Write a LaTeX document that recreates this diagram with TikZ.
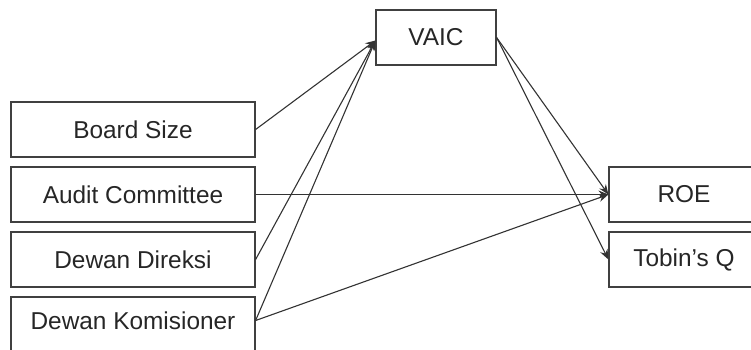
\documentclass[tikz,border=0pt]{standalone}
\usepackage{fontspec}
\setmainfont{Liberation Sans}
\usetikzlibrary{arrows.meta}
\definecolor{boxline}{HTML}{404040}
\definecolor{arrowline}{HTML}{333333}
\tikzset{
  varbox/.style={draw=boxline, line width=0.6pt, minimum width=122pt, minimum height=27.5pt,
    inner sep=0pt, font=\fontsize{12.2}{14}\selectfont, text=black!85},
  smallbox/.style={varbox, minimum width=60pt},
  link/.style={->, draw=arrowline, line width=0.55pt}
}
\begin{document}
\begin{tikzpicture}[x=0.5pt, y=-0.5pt, >={Stealth[length=5pt,width=4pt]}]
  \clip (0, 0) rectangle (751, 349);
  \useasboundingbox (0, 0) rectangle (751, 349);

  % left column
  \node[varbox] (board) at (133, 129.5) {Board Size};
  \node[varbox] (audit) at (133, 194.5) {Audit Committee};
  \node[varbox] (direksi) at (133, 259.5) {Dewan Direksi};
  \node[varbox, text depth=3.5pt] (komisaris) at (133, 324.5) {Dewan Komisioner};

  % mediator and outcomes
  \node[smallbox] (vaic) at (436, 37.5) {VAIC};
  \node[varbox, minimum width=75pt] (roe) at (684, 194.5) {ROE};
  \node[varbox, minimum width=75pt] (tobin) at (684, 259.5) {Tobin's Q};

  \coordinate (vaicin) at ([yshift=-1.5pt]vaic.west);
  \coordinate (komout) at ([yshift=2pt]komisaris.east);

  \draw[link] (board.east) -- (vaicin);
  \draw[link] (direksi.east) -- (vaicin);
  \draw[link] (komout) -- (vaicin);
  \draw[link] (audit.east) -- (roe.west);
  \draw[link] (komout) -- (roe.west);
  \draw[link] (vaic.east) -- (roe.west);
  \draw[link] (vaic.east) -- (tobin.west);
\end{tikzpicture}
\end{document}
